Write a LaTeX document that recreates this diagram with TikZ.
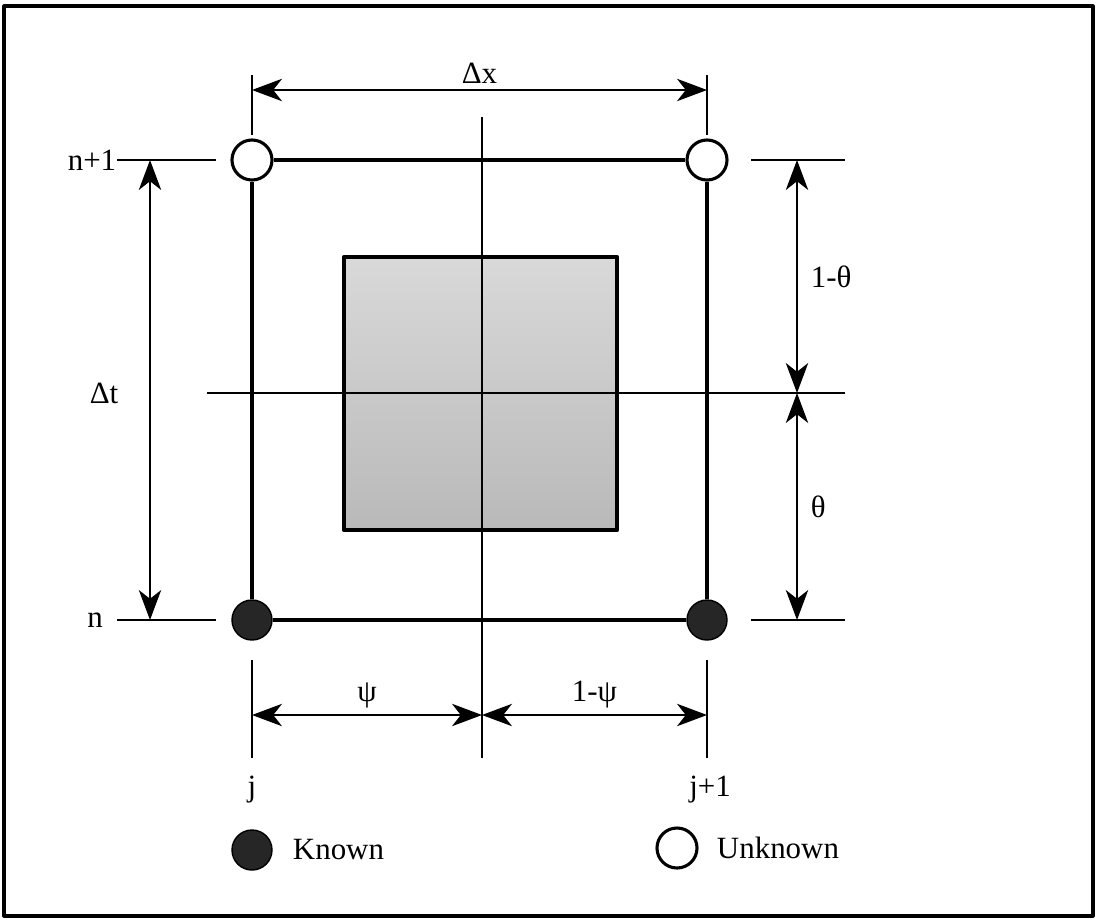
\documentclass[tikz,border=0pt]{standalone}
\usepackage{fontspec}
\setmainfont{Liberation Serif}
\usetikzlibrary{arrows.meta}
\tikzset{
  known/.style={circle,draw,fill=black!85,line width=1pt,minimum size=1cm,inner sep=0pt},
  unknown/.style={circle,draw,fill=white,line width=2.2pt,minimum size=1cm,inner sep=0pt},
  edge/.style={line width=3pt},
  guide/.style={line width=1pt},
  dimarrow/.style={line width=1pt,{Stealth[length=7.5mm,width=5.6mm,inset=2.2mm]}-{Stealth[length=7.5mm,width=5.6mm,inset=2.2mm]}}
}

\begin{document}
\begin{tikzpicture}[x=0.025cm,y=-0.025cm,line join=round,font=\fontsize{22}{26}\selectfont]
  \useasboundingbox (0,0) rectangle (1097,922);
  \draw[line width=2.2pt] (4,6) rectangle (1093,916);

  % shaded cell
  \draw[line width=3pt,top color=gray!30,bottom color=gray!55] (344,257) rectangle (617,530);

  % centre lines
  \coordinate (ctop) at (482,117);
  \coordinate (cbot) at (482,758);
  \coordinate (cleft) at (207,393);
  \coordinate (cright) at (845,393);
  \draw[guide] (ctop) -- (cbot);
  \draw[guide] (cleft) -- (cright);

  % grid points
  \node[unknown] (tl) at (252,160) {};
  \node[unknown] (tr) at (707,160) {};
  \node[known]   (bl) at (252,620) {};
  \node[known]   (br) at (707,620) {};
  \draw[edge] (tl) -- (tr);
  \draw[edge] (tr) -- (br);
  \draw[edge] (br) -- (bl);
  \draw[edge] (bl) -- (tl);

  % extension lines
  \foreach \x/\n in {252/l,707/r}
  {
    \coordinate (top\n a) at (\x,75);
    \coordinate (top\n b) at (\x,135);
    \coordinate (bot\n a) at (\x,660);
    \coordinate (bot\n b) at (\x,758);
    \draw[guide] (top\n a) -- (top\n b);
    \draw[guide] (bot\n a) -- (bot\n b);
  }
  \foreach \y/\n in {160/t,620/b}
  {
    \coordinate (left\n a) at (117,\y);
    \coordinate (left\n b) at (216,\y);
    \coordinate (right\n a) at (751,\y);
    \coordinate (right\n b) at (845,\y);
    \draw[guide] (left\n a) -- (left\n b);
    \draw[guide] (right\n a) -- (right\n b);
  }

  % dimensions
  \coordinate (dxl) at (252,90);
  \coordinate (dxr) at (707,90);
  \draw[dimarrow] (dxl) -- (dxr) node[midway,above=1pt] {Δx};
  \coordinate (dtt) at (150,160);
  \coordinate (dtb) at (150,620);
  \draw[dimarrow] (dtt) -- (dtb);
  \node (dt) at (104,393) {Δt};
  \coordinate (tht) at (797,160);
  \coordinate (thm) at (797,393);
  \coordinate (thb) at (797,620);
  \draw[dimarrow] (tht) -- (thm) node[midway,right=6pt] {1-θ};
  \draw[dimarrow] (thm) -- (thb) node[midway,right=6pt] {θ};
  \coordinate (psl) at (252,715);
  \coordinate (psm) at (482,715);
  \coordinate (psr) at (707,715);
  \draw[dimarrow] (psl) -- (psm) node[midway,above=1pt] {ψ};
  \draw[dimarrow] (psm) -- (psr) node[midway,above=1pt] {1-ψ};

  % index labels
  \node (np) at (92,160) {n+1};
  \node (nn) at (95,620) {n};
  \node (jj) at (252,790) {j};
  \node (jp) at (710,790) {j+1};

  % legend
  \node[known]   (lk) at (252,850) {};
  \node[anchor=west] (lkt) at (288,850) {Known};
  \node[unknown] (lu) at (677,848) {};
  \node[anchor=west] (lut) at (712,848) {Unknown};
\end{tikzpicture}
\end{document}
